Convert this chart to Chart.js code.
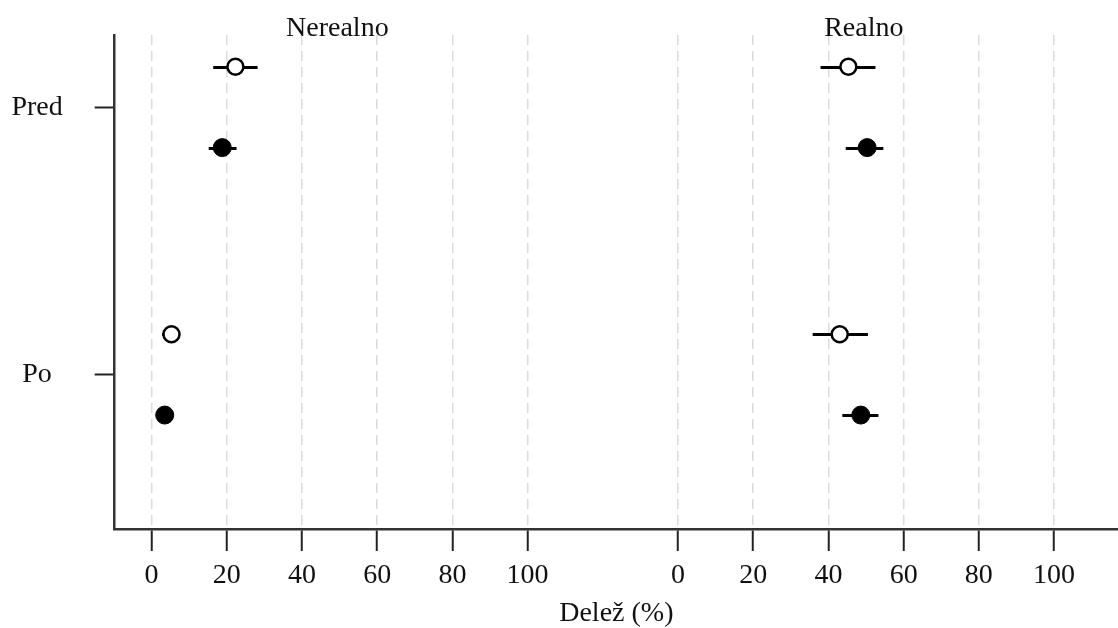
<!DOCTYPE html>
<html>
<head>
<meta charset="utf-8">
<script src="https://cdn.jsdelivr.net/npm/chart.js@4/dist/chart.umd.min.js"></script>
<style>
  html, body { margin: 0; padding: 0; background: #fff; }
  #wrap { width: 1118px; height: 628px; }
</style>
</head>
<body>
<div id="wrap"><canvas id="chart" width="1118" height="628"></canvas></div>
<script>
// categories on the y axis and the two panels
const categories = ["Pred", "Po"];
const panels = ["Nerealno", "Realno"];
const xTicks = [0, 20, 40, 60, 80, 100];

// open circles: estimate, lower, upper (per category)
const openNerealno = [22.3, 5.3];
const openNerealnoLo = [16.4, 2.8];
const openNerealnoHi = [28.2, 7.6];
const openRealno = [45.3, 43.0];
const openRealnoLo = [37.9, 35.8];
const openRealnoHi = [52.5, 50.5];

// filled circles
const filledNerealno = [18.8, 3.5];
const filledNerealnoLo = [15.2, 2.4];
const filledNerealnoHi = [22.6, 4.6];
const filledRealno = [50.3, 48.6];
const filledRealnoLo = [44.6, 43.7];
const filledRealnoHi = [54.6, 53.3];

// layout helpers
const PANEL_SHIFT = 140;   // second panel drawn to the right on the same x scale
const ROW_SHIFT = 0.151;   // open row above the tick, filled row below
const catY = [2, 1];
const FONT = "'Liberation Serif', 'DejaVu Serif', serif";

function points(left, right, dy) {
  const out = [];
  categories.forEach((c, i) => {
    out.push({ x: left[i], y: catY[i] + dy });
    out.push({ x: right[i] + PANEL_SHIFT, y: catY[i] + dy });
  });
  return out;
}
function bars(leftLo, leftHi, rightLo, rightHi) {
  const out = [];
  categories.forEach((c, i) => {
    out.push([leftLo[i], leftHi[i]]);
    out.push([rightLo[i] + PANEL_SHIFT, rightHi[i] + PANEL_SHIFT]);
  });
  return out;
}

const openData = points(openNerealno, openRealno, ROW_SHIFT);
const filledData = points(filledNerealno, filledRealno, -ROW_SHIFT);
const openBars = bars(openNerealnoLo, openNerealnoHi, openRealnoLo, openRealnoHi);
const filledBars = bars(filledNerealnoLo, filledNerealnoHi, filledRealnoLo, filledRealnoHi);

// horizontal interval lines behind the points
const errorBars = {
  id: "errorBars",
  beforeDatasetsDraw(chart) {
    const { ctx, scales: { x, y } } = chart;
    ctx.save();
    ctx.strokeStyle = "#000";
    ctx.lineWidth = 3;
    chart.data.datasets.forEach(ds => {
      ds.data.forEach((p, i) => {
        const [lo, hi] = ds.intervals[i];
        const py = Math.round(y.getPixelForValue(p.y)) + 0.5;
        ctx.beginPath();
        ctx.moveTo(x.getPixelForValue(lo), py);
        ctx.lineTo(x.getPixelForValue(hi), py);
        ctx.stroke();
      });
    });
    ctx.restore();
  }
};

// strip titles above each panel
const panelTitles = {
  id: "panelTitles",
  afterDraw(chart) {
    const { ctx, scales: { x } } = chart;
    ctx.save();
    ctx.fillStyle = "#111";
    ctx.font = "28px " + FONT;
    ctx.textAlign = "center";
    ctx.textBaseline = "middle";
    panels.forEach((name, i) => {
      ctx.fillText(name, x.getPixelForValue(49.4 + i * PANEL_SHIFT), 29);
    });
    ctx.restore();
  }
};

new Chart(document.getElementById("chart"), {
  type: "scatter",
  data: {
    datasets: [
      {
        label: "open",
        data: openData,
        intervals: openBars,
        pointRadius: 8,
        pointBackgroundColor: "#fff",
        pointBorderColor: "#000",
        pointBorderWidth: 2.5
      },
      {
        label: "filled",
        data: filledData,
        intervals: filledBars,
        pointRadius: 9,
        pointBackgroundColor: "#000",
        pointBorderColor: "#000",
        pointBorderWidth: 1
      }
    ]
  },
  options: {
    responsive: false,
    animation: false,
    layout: { autoPadding: false, padding: { top: 35, right: 0, left: 0, bottom: 0 } },
    plugins: {
      legend: { display: false },
      tooltip: { enabled: false }
    },
    scales: {
      x: {
        type: "linear",
        min: -9.8,
        max: 257,
        afterBuildTicks(scale) {
          const vals = xTicks.concat(xTicks.map(v => v + PANEL_SHIFT));
          scale.ticks = vals.map(v => ({ value: v }));
        },
        afterFit(scale) {
          scale.height = 99;
          scale.paddingLeft = 0;
          scale.paddingRight = 0;
        },
        ticks: {
          color: "#111",
          font: { family: FONT, size: 28 },
          padding: 8,
          maxRotation: 0,
          autoSkip: false,
          callback: v => (v >= PANEL_SHIFT ? v - PANEL_SHIFT : v)
        },
        grid: {
          color: "#dcdcdc",
          lineWidth: 1.5,
          tickLength: 22,
          tickColor: "#222",
          tickWidth: 2
        },
        border: { color: "#333", width: 2.5, dash: [10, 6] },
        title: {
          display: true,
          text: "Delež (%)",
          color: "#111",
          font: { family: FONT, size: 28, lineHeight: 1 },
          padding: { top: 0, bottom: 0 }
        }
      },
      y: {
        type: "linear",
        min: 0.423,
        max: 2.27,
        afterBuildTicks(scale) {
          scale.ticks = catY.map(v => ({ value: v }));
        },
        afterFit(scale) {
          scale.width = 114.7;
          scale.paddingTop = 0;
          scale.paddingBottom = 0;
        },
        ticks: {
          color: "#111",
          font: { family: FONT, size: 28 },
          padding: 32,
          crossAlign: "center",
          callback: v => categories[catY.indexOf(v)]
        },
        grid: {
          drawOnChartArea: false,
          tickLength: 20,
          tickColor: "#222",
          tickWidth: 2
        },
        border: { color: "#333", width: 2.5 }
      }
    }
  },
  plugins: [errorBars, panelTitles]
});
</script>
</body>
</html>
